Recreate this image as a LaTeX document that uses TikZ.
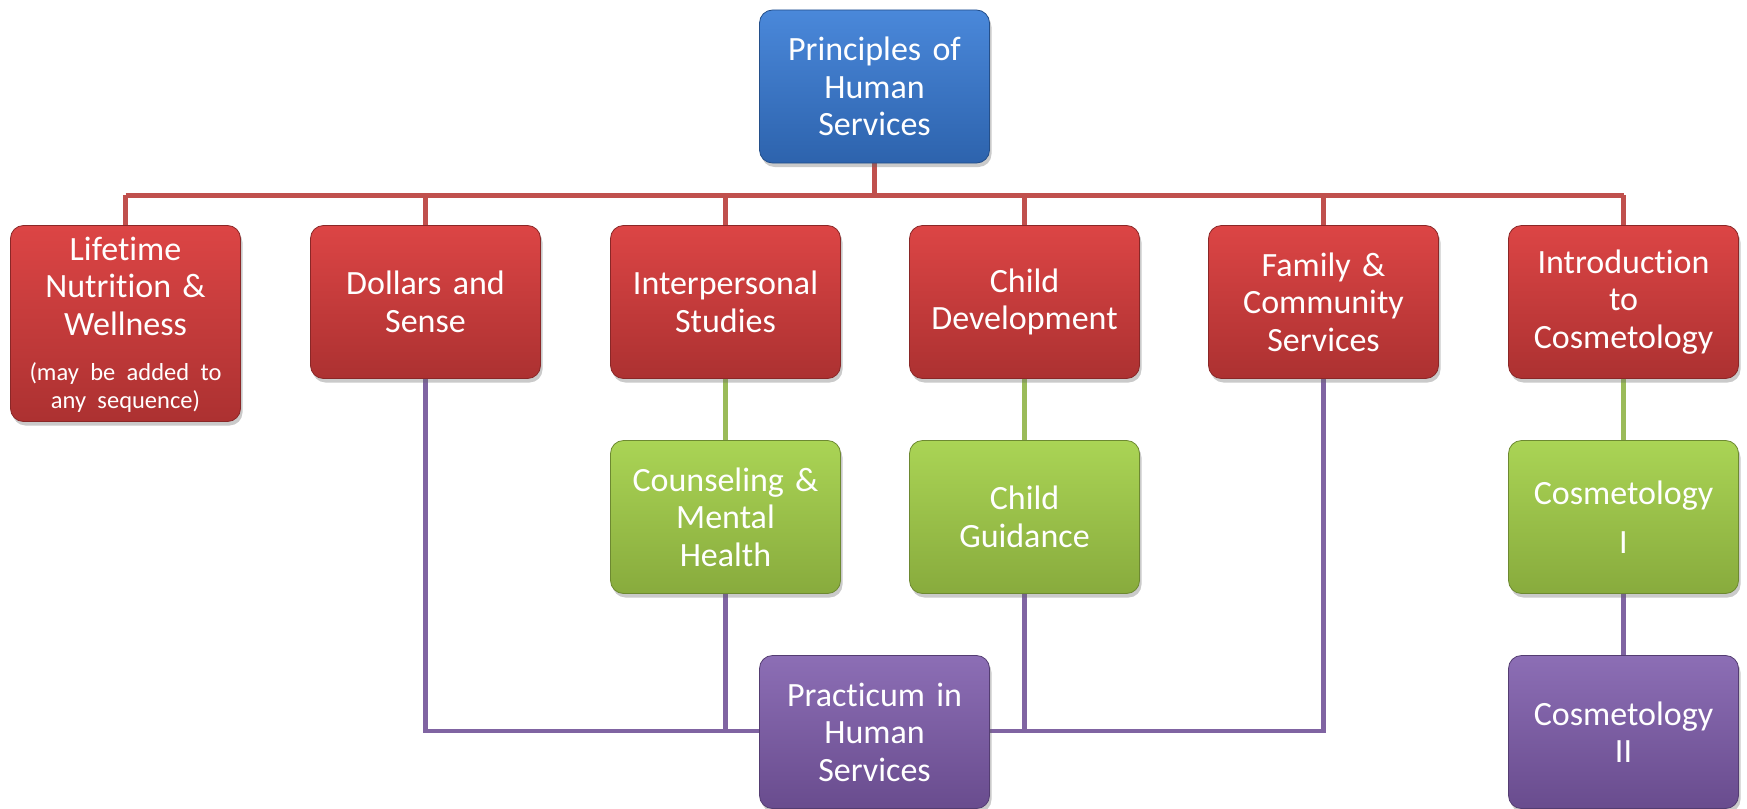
\documentclass[tikz,border=0pt]{standalone}
\usepackage{fontspec}
\setmainfont{Carlito}[Ligatures={NoCommon,NoContextual,NoRare}]
\usetikzlibrary{shadows,backgrounds}
\definecolor{blueT}{HTML}{4A88DA}
\definecolor{blueB}{HTML}{2D63AD}
\definecolor{redT}{HTML}{DC4545}
\definecolor{redB}{HTML}{AC3131}
\definecolor{greenT}{HTML}{AAD455}
\definecolor{greenB}{HTML}{88AB3D}
\definecolor{purpleT}{HTML}{8C6EB5}
\definecolor{purpleB}{HTML}{694C8E}
\definecolor{redL}{HTML}{C0504D}
\definecolor{greenL}{HTML}{9BBB59}
\definecolor{purpleL}{HTML}{8064A2}
\tikzset{
  course/.style={rounded corners=13pt, minimum width=230pt, minimum height=153pt,
    text width=226pt, align=center, inner sep=0pt, text=white,
    font=\fontsize{34}{37.5}\selectfont,
    drop shadow={shadow xshift=2pt, shadow yshift=-4pt, opacity=0.35, fill=black!60}},
  bluebox/.style={course, top color=blueT, bottom color=blueB, draw=blueB!80!black, line width=0.8pt},
  redbox/.style={course, top color=redT, bottom color=redB, draw=redB!80!black, line width=0.8pt},
  greenbox/.style={course, top color=greenT, bottom color=greenB, draw=greenB!80!black, line width=0.8pt},
  purplebox/.style={course, top color=purpleT, bottom color=purpleB, draw=purpleB!80!black, line width=0.8pt},
  redline/.style={draw=redL, line width=4.5pt},
  greenline/.style={draw=greenL, line width=4.5pt},
  purpleline/.style={draw=purpleL, line width=4.5pt},
}
\begin{document}
\begin{tikzpicture}[x=1pt,y=-1pt]
\useasboundingbox (0,0) rectangle (1747,808);
% top
\node[bluebox] (top) at (874.5,86.5) {Principles of\\Human\\Services};
% row 1
\node[redbox, minimum height=196pt] (life) at (125.5,323.5)
  {\setbox0\hbox{Lifetime}\rule{0pt}{\dimexpr\ht0+7pt\relax}Lifetime\\Nutrition \&\\Wellness\\[8pt]{\fontsize{24.5}{28}\selectfont\begin{tabular}[t]{@{}c@{}}(may be added to\\any sequence)\end{tabular}}};
\node[redbox] (dollars) at (425.5,302) {Dollars and\\Sense};
\node[redbox] (inter) at (725.5,302) {Interpersonal\\Studies};
\node[redbox] (childdev) at (1024.5,302) {Child\\Development};
\node[redbox] (family) at (1323.5,302) {Family \&\\Community\\Services};
\node[redbox] (intro) at (1623.5,302) {Introduction\\to\\Cosmetology};
% row 2
\node[greenbox] (counsel) at (725.5,517) {Counseling \&\\Mental\\Health};
\node[greenbox] (guide) at (1024.5,517) {Child\\Guidance};
\node[greenbox] (cosone) at (1623.5,517) {Cosmetology\\[12pt]I};
% row 3
\node[purplebox] (practicum) at (874.5,732) {Practicum in\\Human\\Services};
\node[purplebox] (costwo) at (1623.5,732) {Cosmetology\\II};
\begin{scope}[on background layer]
  \coordinate (hub) at ([yshift=-32pt]top.south);
  \draw[redline] (top.south) -- (hub);
  \draw[redline] (life.north |- hub) -- (intro.north |- hub);
  \foreach \n in {life,dollars,inter,childdev,family,intro}
    \draw[redline] (\n.north) -- (\n.north |- hub);
  \draw[greenline] (inter.south) -- (counsel.north);
  \draw[greenline] (childdev.south) -- (guide.north);
  \draw[greenline] (intro.south) -- (cosone.north);
  \draw[purpleline] (cosone.south) -- (costwo.north);
  \draw[purpleline] (dollars.south) |- ([yshift=1pt]practicum.west);
  \draw[purpleline] (family.south) |- ([yshift=1pt]practicum.east);
  \draw[purpleline] (counsel.south) -- (counsel.south |- practicum.west);
  \draw[purpleline] (guide.south) -- (guide.south |- practicum.west);
\end{scope}
\end{tikzpicture}
\end{document}
